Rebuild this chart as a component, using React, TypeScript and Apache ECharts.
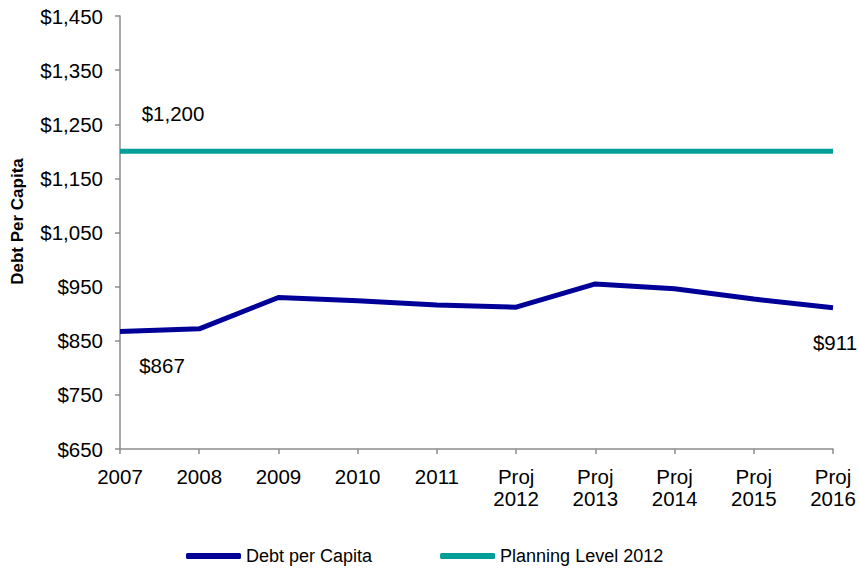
import React, { useEffect, useRef } from "react";
import * as echarts from "echarts";

const categories = ["2007", "2008", "2009", "2010", "2011", "Proj\n2012", "Proj\n2013", "Proj\n2014", "Proj\n2015", "Proj\n2016"];
const debtPerCapita = [867, 872, 930, 924, 916, 912, 955, 946, 927, 911];
const planningLevel = [1200, 1200, 1200, 1200, 1200, 1200, 1200, 1200, 1200, 1200];

const fmt = (v: number) => "$" + v.toLocaleString("en-US");

export default function App() {
  const ref = useRef<HTMLDivElement>(null);
  useEffect(() => {
    if (!ref.current) return;
    const chart = echarts.init(ref.current, undefined, { renderer: "svg" });
    const font = "Liberation Sans, Arial, sans-serif";
    const last = debtPerCapita.length - 1;
    chart.setOption({
      animation: false,
      textStyle: { fontFamily: font },
      grid: { left: 120, right: 26, top: 16, bottom: 125, containLabel: false, outerBoundsMode: "none" },
      legend: {
        left: 181,
        bottom: 4,
        itemWidth: 55,
        itemHeight: 6,
        itemGap: 68,
        icon: "roundRect",
        textStyle: { fontSize: 18, color: "#000", fontFamily: font },
        data: ["Debt per Capita", "Planning Level 2012"],
      },
      xAxis: {
        type: "category",
        data: categories,
        boundaryGap: false,
        axisLine: { lineStyle: { color: "#8c8c8c", width: 1.5 } },
        axisTick: { show: true, length: 5, lineStyle: { color: "#8c8c8c", width: 1.5 } },
        axisLabel: { color: "#000", fontSize: 20.5, margin: 16, lineHeight: 22, interval: 0, fontFamily: font },
        splitLine: { show: false },
      },
      yAxis: {
        type: "value",
        min: 650,
        max: 1450,
        interval: 100,
        name: "Debt Per Capita",
        nameLocation: "middle",
        nameGap: 94,
        nameTextStyle: { fontSize: 17, fontWeight: "bold", color: "#000", fontFamily: font, padding: [0, 0, 0, 22] },
        axisLine: { show: true, lineStyle: { color: "#8c8c8c", width: 1.5 } },
        axisTick: { show: true, length: 5, lineStyle: { color: "#8c8c8c", width: 1.5 } },
        axisLabel: { color: "#000", fontSize: 20.5, margin: 17, formatter: (v: number) => fmt(v), fontFamily: font },
        splitLine: { show: false },
      },
      series: [
        {
          name: "Debt per Capita",
          type: "line",
          symbol: "circle",
          symbolSize: 0,
          showSymbol: true,
          lineStyle: { color: "#000099", width: 5 },
          itemStyle: { color: "#000099" },
          data: debtPerCapita.map((v, i) => {
            if (i === 0)
              return { value: v, label: { show: true, position: "bottom", offset: [42, 18], formatter: fmt(v) } };
            if (i === last)
              return { value: v, label: { show: true, position: "bottom", offset: [2, 19], formatter: fmt(v) } };
            return v;
          }),
          label: { fontSize: 20.5, color: "#000", fontFamily: font },
        },
        {
          name: "Planning Level 2012",
          type: "line",
          symbol: "circle",
          symbolSize: 0,
          showSymbol: true,
          lineStyle: { color: "#009e99", width: 5 },
          itemStyle: { color: "#009e99" },
          data: planningLevel.map((v, i) =>
            i === 0
              ? { value: v, label: { show: true, position: "top", offset: [53, -22], formatter: fmt(v) } }
              : v
          ),
          label: { fontSize: 20.5, color: "#000", fontFamily: font },
        },
      ],
    });
    return () => chart.dispose();
  }, []);
  return <div ref={ref} style={{ position: "absolute", left: 0, top: 0, width: 859, height: 574 }} />;
}
